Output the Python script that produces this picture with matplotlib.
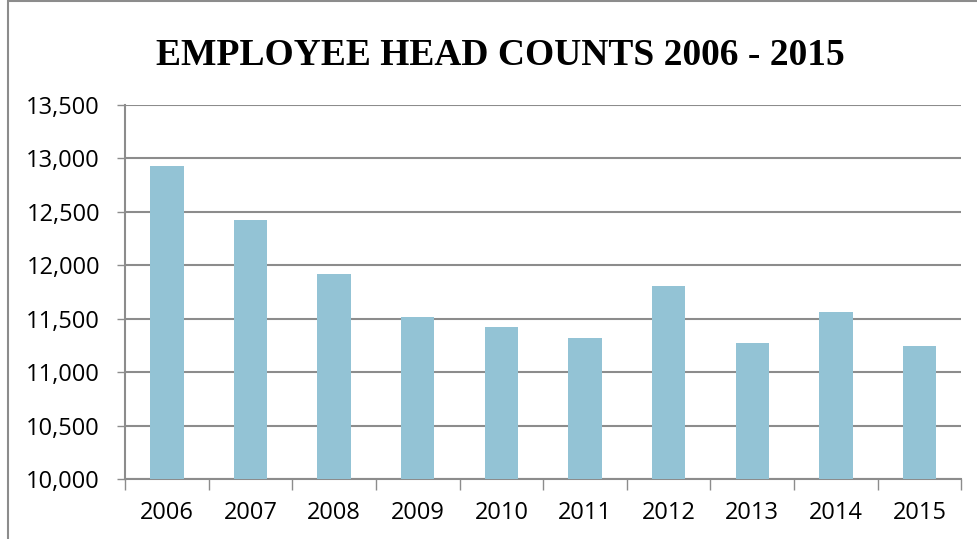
import matplotlib.pyplot as plt
from matplotlib.patches import Rectangle
from matplotlib.ticker import FuncFormatter, FixedLocator

# Data
years = ['2006', '2007', '2008', '2009', '2010', '2011', '2012', '2013', '2014', '2015']
head_counts = [12933, 12424, 11921, 11518, 11424, 11315, 11809, 11275, 11562, 11244]

bar_color = '#93C3D5'
grid_color = '#8C8C8C'

fig = plt.figure(figsize=(9.77, 5.39), dpi=100)
ax = fig.add_axes([0.128, 0.1113, 0.856, 0.6939])

# Chart border (only left and top edges are visible in the crop)
fig.patches.append(Rectangle((0.008, -0.5), 1.2, 1.498, transform=fig.transFigure,
                             fill=False, edgecolor='#8C8C8C', linewidth=1.5))

x = range(len(years))
ax.bar(x, head_counts, width=0.4, color=bar_color, zorder=3)

ax.set_xlim(-0.5, len(years) - 0.5)
ax.set_ylim(10000, 13500)
ax.set_yticks(range(10000, 13501, 500))
ax.yaxis.set_major_formatter(FuncFormatter(lambda v, p: f'{int(v):,}'))
ax.grid(axis='y', color=grid_color, linewidth=1.5, zorder=0)

ax.set_xticks(list(x))
ax.set_xticklabels(years)
ax.xaxis.set_minor_locator(FixedLocator([i - 0.5 for i in range(len(years) + 1)]))
ax.tick_params(axis='x', which='major', length=0, pad=16, labelsize=17)
ax.tick_params(axis='x', which='minor', length=8, width=1, color=grid_color)
ax.tick_params(axis='y', length=6, width=1, color=grid_color, pad=12, labelsize=17)

for lab in ax.get_xticklabels() + ax.get_yticklabels():
    lab.set_fontfamily('Open Sans')

for side in ['top', 'right']:
    ax.spines[side].set_visible(False)
for side in ['left', 'bottom']:
    ax.spines[side].set_color(grid_color)
    ax.spines[side].set_linewidth(1.5)

fig.text(0.512, 0.897, 'EMPLOYEE HEAD COUNTS 2006 - 2015', ha='center', va='center',
         fontsize=27, fontweight='bold', family='Liberation Serif')

fig.savefig('out.png', dpi=100)
